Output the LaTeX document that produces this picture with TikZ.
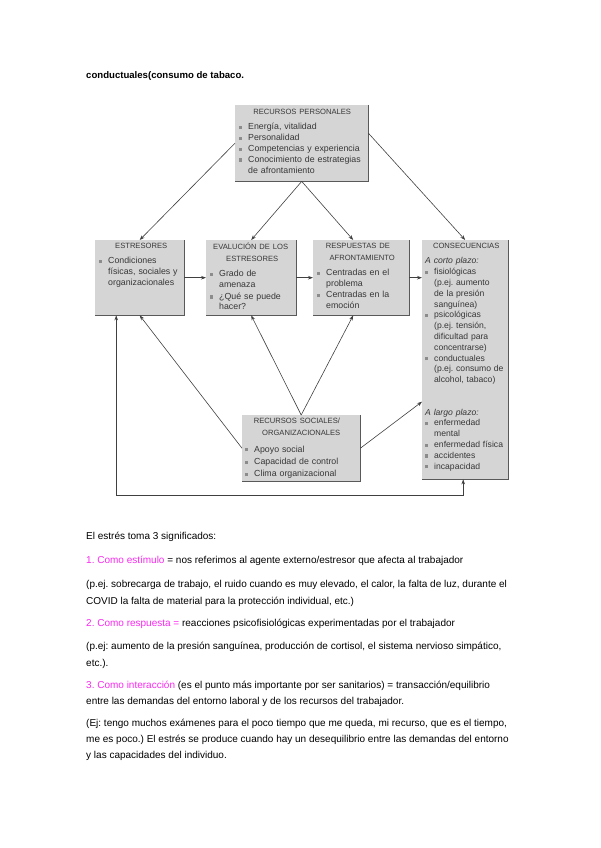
\documentclass[tikz,border=0pt]{standalone}
\usepackage{fontspec}
\setmainfont{Liberation Sans}
\usetikzlibrary{arrows.meta}
\frenchspacing

\definecolor{rosa}{RGB}{250,40,240}
\definecolor{relleno}{RGB}{213,213,213}
\definecolor{tinta}{RGB}{55,55,55}

\newcommand{\cuadrito}{\textcolor{black!45}{\rule[0.6pt]{3.2pt}{3.2pt}}}
\newcommand{\punto}[1]{\par\lineskip=0pt\relax\noindent\makebox[9pt][l]{\cuadrito}%
  \parbox[t]{\dimexpr\hsize-9pt\relax}{\raggedright\strut #1\strut}}
\newcommand{\titulo}[1]{{\centering\fontsize{7.6}{11.5}\selectfont #1\par}\vspace{4.5pt}}

\begin{document}
\begin{tikzpicture}[x=1pt, y=-1pt,
    caja/.style={anchor=north west, fill=relleno, inner sep=0pt},
    texto/.style={anchor=north west, inner sep=0pt, text width=#1, text=tinta,
      font=\fontsize{8.8}{10.8}\selectfont},
    sombra/.style={draw=black!65, line width=1.1pt},
    flecha/.style={draw=black!75, line width=0.6pt, -{Stealth[length=5pt,width=3.6pt]}},
    linea/.style={anchor=west, inner sep=0pt, font=\fontsize{10}{12}\selectfont}]
    \useasboundingbox (0,0) rectangle (600,848);

    % heading left over from the page before
    \node[linea, font=\fontsize{9.6}{12}\selectfont\bfseries] (cabecera) at (86,76) {conductuales(consumo de tabaco.};

    % Boxes
    \node[caja, minimum width=133pt, minimum height=76pt] (rp) at (235,105) {};
    \node[caja, minimum width=89pt, minimum height=75pt] (estr) at (95,240) {};
    \node[caja, minimum width=90pt, minimum height=75pt] (eval) at (206,240) {};
    \node[caja, minimum width=96pt, minimum height=75pt] (resp) at (313,240) {};
    \node[caja, minimum width=86pt, minimum height=239pt] (cons) at (422,240) {};
    \node[caja, minimum width=118pt, minimum height=66pt] (rs) at (242,415) {};
    \foreach \c in {rp,estr,eval,resp,cons,rs}
      \draw[sombra] (\c.north east) -- (\c.south east) -- (\c.south west);

    % Box texts
    \node[texto=126pt] (rp-t) at (239,109) {\titulo{RECURSOS PERSONALES}
      \punto{Energía, vitalidad}
      \punto{Personalidad}
      \punto{Competencias y experiencia}
      \punto{Conocimiento de estrategias\newline de afrontamiento}};
    \node[texto=84pt] (estr-t) at (99,243) {\titulo{ESTRESORES}
      \punto{Condiciones\newline físicas, sociales y\newline organizacionales}};
    \node[texto=84pt] (eval-t) at (210,243) {\titulo{EVALUCIÓN DE LOS\newline ESTRESORES}
      \punto{Grado de\newline amenaza}
      \punto{¿Qué se puede\newline hacer?}};
    \node[texto=90pt] (resp-t) at (317,243) {\titulo{RESPUESTAS DE\newline AFRONTAMIENTO}
      \punto{Centradas en el\newline problema}
      \punto{Centradas en la\newline emoción}};
    \node[texto=82pt, font=\fontsize{8.6}{10.8}\selectfont] (cons-t) at (425,243) {\titulo{CONSECUENCIAS}
      \noindent\textit{A corto plazo:}
      \punto{fisiológicas\newline (p.ej. aumento\newline de la presión\newline sanguínea)}
      \punto{psicológicas\newline (p.ej. tensión,\newline dificultad para\newline concentrarse)}
      \punto{conductuales\newline (p.ej. consumo de\newline alcohol, tabaco)}
      \par\vspace{23pt}
      \noindent\textit{A largo plazo:}
      \punto{enfermedad\newline mental}
      \punto{enfermedad física}
      \punto{accidentes}
      \punto{incapacidad}};
    \node[texto=112pt, font=\fontsize{8.8}{12.3}\selectfont] (rs-t) at (245,418) {\titulo{RECURSOS SOCIALES/\newline ORGANIZACIONALES}
      \punto{Apoyo social}
      \punto{Capacidad de control}
      \punto{Clima organizacional}};

    % Arrows
    \draw[flecha] (rp.west) -- (estr.north);
    \draw[flecha] (rp.south) -- (eval.north);
    \draw[flecha] (rp.south) -- ([xshift=-8pt]resp.north);
    \draw[flecha] ([yshift=10pt]rp.east) -- (cons.north);
    \draw[flecha] (estr.east) -- (eval.west);
    \draw[flecha] (eval.east) -- (resp.west);
    \draw[flecha] (resp.east) -- (resp.east -| cons.west);
    \draw[flecha] (rs.north) -- (eval.south);
    \draw[flecha] (rs.north) -- ([xshift=-8pt]resp.south);
    \draw[flecha] (rs.west) -- (estr.south);
    \draw[flecha] (rs.east) -- ([yshift=-42pt]cons.west);
    \draw[flecha, {Stealth[length=5pt,width=3.6pt]}-{Stealth[length=5pt,width=3.6pt]}]
      ([xshift=-2pt]cons.south) -- ++(0,16) -| ([xshift=-23.5pt]estr.south);

    % Text below the figure
    \node[linea] (l0) at (86,537) {El estrés toma 3 significados:};
    \node[linea] (l1) at (86,561) {\textcolor{rosa}{1. Como estímulo} = nos referimos al agente externo/estresor que afecta al trabajador};
    \node[linea] (l2) at (86,585) {(p.ej. sobrecarga de trabajo, el ruido cuando es muy elevado, el calor, la falta de luz, durante el};
    \node[linea] (l3) at (86,602) {COVID la falta de material para la protección individual, etc.)};
    \node[linea] (l4) at (86,624) {\textcolor{rosa}{2. Como respuesta =} reacciones psicofisiológicas experimentadas por el trabajador};
    \node[linea] (l5) at (86,647) {(p.ej: aumento de la presión sanguínea, producción de cortisol, el sistema nervioso simpático,};
    \node[linea] (l6) at (86,664) {etc.).};
    \node[linea] (l7) at (86,686) {\textcolor{rosa}{3. Como interacción} (es el punto más importante por ser sanitarios) = transacción/equilibrio};
    \node[linea] (l8) at (86,702) {entre las demandas del entorno laboral y de los recursos del trabajador.};
    \node[linea] (l9) at (86,724) {(Ej: tengo muchos exámenes para el poco tiempo que me queda, mi recurso, que es el tiempo,};
    \node[linea] (l10) at (86,740) {me es poco.) El estrés se produce cuando hay un desequilibrio entre las demandas del entorno};
    \node[linea] (l11) at (86,756) {y las capacidades del individuo.};
\end{tikzpicture}
\end{document}
